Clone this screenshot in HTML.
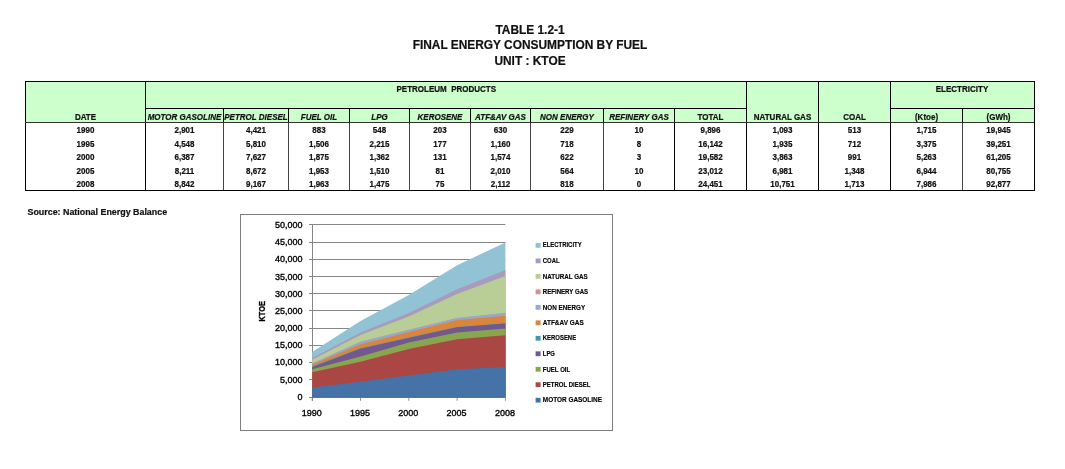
<!DOCTYPE html>
<html lang="en"><head><meta charset="utf-8"><title>Table 1.2-1 Final Energy Consumption by Fuel</title>
<style>
html,body{margin:0;padding:0;background:#fff;}
body{width:1065px;height:469px;position:relative;overflow:hidden;font-family:"Liberation Sans",Arial,sans-serif;color:#111;}
.a{position:absolute;}
.t{position:absolute;white-space:nowrap;text-align:center;font-weight:bold;line-height:1;-webkit-text-stroke:0.2px #111;}
.ttl{font-size:11.9px;left:0;width:1060px;transform:scale(1,1.04);}
.h{font-size:8px;transform:scale(1,1.2);}
.hi{font-size:8px;font-style:italic;transform:scale(1,1.2);}
.d{font-size:8px;transform:scale(1,1.18);}
.ln{position:absolute;background:#000;}
.src{font-size:8.9px;text-align:left;}
svg text{font-family:"Liberation Sans",Arial,sans-serif;}
</style></head><body>
<div class="t ttl" style="top:25.4px">TABLE 1.2-1</div>
<div class="t ttl" style="top:40.1px">FINAL ENERGY CONSUMPTION BY FUEL</div>
<div class="t ttl" style="top:55.8px">UNIT : KTOE</div>
<div class="a" style="left:25px;top:81px;width:1009px;height:41px;background:#ccffcc"></div>
<div class="a" style="left:25px;top:81px;width:1010px;height:110px;border:1px solid #000;box-sizing:border-box"></div>
<div class="ln" style="left:145px;top:81px;width:1px;height:109px;background:#000"></div>
<div class="ln" style="left:223px;top:108px;width:1px;height:14px;background:#000"></div>
<div class="ln" style="left:223px;top:122px;width:1px;height:68px;background:#444"></div>
<div class="ln" style="left:288px;top:108px;width:1px;height:14px;background:#000"></div>
<div class="ln" style="left:288px;top:122px;width:1px;height:68px;background:#444"></div>
<div class="ln" style="left:349px;top:108px;width:1px;height:14px;background:#000"></div>
<div class="ln" style="left:349px;top:122px;width:1px;height:68px;background:#444"></div>
<div class="ln" style="left:409px;top:108px;width:1px;height:14px;background:#000"></div>
<div class="ln" style="left:409px;top:122px;width:1px;height:68px;background:#444"></div>
<div class="ln" style="left:470px;top:108px;width:1px;height:14px;background:#000"></div>
<div class="ln" style="left:470px;top:122px;width:1px;height:68px;background:#444"></div>
<div class="ln" style="left:530px;top:108px;width:1px;height:14px;background:#000"></div>
<div class="ln" style="left:530px;top:122px;width:1px;height:68px;background:#444"></div>
<div class="ln" style="left:603px;top:108px;width:1px;height:14px;background:#000"></div>
<div class="ln" style="left:603px;top:122px;width:1px;height:68px;background:#444"></div>
<div class="ln" style="left:674px;top:108px;width:1px;height:14px;background:#000"></div>
<div class="ln" style="left:674px;top:122px;width:1px;height:68px;background:#000"></div>
<div class="ln" style="left:746px;top:81px;width:1px;height:109px;background:#000"></div>
<div class="ln" style="left:818px;top:81px;width:1px;height:109px;background:#000"></div>
<div class="ln" style="left:890px;top:81px;width:1px;height:109px;background:#000"></div>
<div class="ln" style="left:962px;top:108px;width:1px;height:14px;background:#000"></div>
<div class="ln" style="left:962px;top:122px;width:1px;height:68px;background:#444"></div>
<div class="ln" style="left:145px;top:108px;width:601px;height:1px;background:#000"></div>
<div class="ln" style="left:890px;top:108px;width:144px;height:1px;background:#000"></div>
<div class="ln" style="left:25px;top:122px;width:1009px;height:1px;background:#333"></div>
<div class="t h" style="left:146.6px;width:599.4px;top:86.2px;">PETROLEUM&nbsp; PRODUCTS</div>
<div class="t h" style="left:890px;width:144px;top:86.2px;">ELECTRICITY</div>
<div class="t h" style="left:25px;width:121px;top:114.1px;">DATE</div>
<div class="t hi" style="left:145px;width:79px;top:114.1px;">MOTOR GASOLINE</div>
<div class="t hi" style="left:223px;width:66px;top:114.1px;">PETROL DIESEL</div>
<div class="t hi" style="left:288px;width:62px;top:114.1px;">FUEL OIL</div>
<div class="t hi" style="left:349px;width:61px;top:114.1px;">LPG</div>
<div class="t hi" style="left:409px;width:62px;top:114.1px;">KEROSENE</div>
<div class="t hi" style="left:470px;width:61px;top:114.1px;">ATF&amp;AV GAS</div>
<div class="t hi" style="left:530px;width:74px;top:114.1px;">NON ENERGY</div>
<div class="t hi" style="left:603px;width:72px;top:114.1px;">REFINERY GAS</div>
<div class="t h" style="left:674px;width:73px;top:114.1px;">TOTAL</div>
<div class="t h" style="left:746px;width:73px;top:114.1px;">NATURAL GAS</div>
<div class="t h" style="left:818px;width:73px;top:114.1px;">COAL</div>
<div class="t h" style="left:890px;width:73px;top:114.1px;">(Ktoe)</div>
<div class="t h" style="left:962px;width:73px;top:114.1px;">(GWh)</div>
<div class="t d" style="left:25px;width:121px;top:126.9px;">1990</div>
<div class="t d" style="left:145px;width:79px;top:126.9px;">2,901</div>
<div class="t d" style="left:223px;width:66px;top:126.9px;">4,421</div>
<div class="t d" style="left:288px;width:62px;top:126.9px;">883</div>
<div class="t d" style="left:349px;width:61px;top:126.9px;">548</div>
<div class="t d" style="left:409px;width:62px;top:126.9px;">203</div>
<div class="t d" style="left:470px;width:61px;top:126.9px;">630</div>
<div class="t d" style="left:530px;width:74px;top:126.9px;">229</div>
<div class="t d" style="left:603px;width:72px;top:126.9px;">10</div>
<div class="t d" style="left:674px;width:73px;top:126.9px;">9,896</div>
<div class="t d" style="left:746px;width:73px;top:126.9px;">1,093</div>
<div class="t d" style="left:818px;width:73px;top:126.9px;">513</div>
<div class="t d" style="left:890px;width:73px;top:126.9px;">1,715</div>
<div class="t d" style="left:962px;width:73px;top:126.9px;">19,945</div>
<div class="t d" style="left:25px;width:121px;top:141.0px;">1995</div>
<div class="t d" style="left:145px;width:79px;top:141.0px;">4,548</div>
<div class="t d" style="left:223px;width:66px;top:141.0px;">5,810</div>
<div class="t d" style="left:288px;width:62px;top:141.0px;">1,506</div>
<div class="t d" style="left:349px;width:61px;top:141.0px;">2,215</div>
<div class="t d" style="left:409px;width:62px;top:141.0px;">177</div>
<div class="t d" style="left:470px;width:61px;top:141.0px;">1,160</div>
<div class="t d" style="left:530px;width:74px;top:141.0px;">718</div>
<div class="t d" style="left:603px;width:72px;top:141.0px;">8</div>
<div class="t d" style="left:674px;width:73px;top:141.0px;">16,142</div>
<div class="t d" style="left:746px;width:73px;top:141.0px;">1,935</div>
<div class="t d" style="left:818px;width:73px;top:141.0px;">712</div>
<div class="t d" style="left:890px;width:73px;top:141.0px;">3,375</div>
<div class="t d" style="left:962px;width:73px;top:141.0px;">39,251</div>
<div class="t d" style="left:25px;width:121px;top:154.1px;">2000</div>
<div class="t d" style="left:145px;width:79px;top:154.1px;">6,387</div>
<div class="t d" style="left:223px;width:66px;top:154.1px;">7,627</div>
<div class="t d" style="left:288px;width:62px;top:154.1px;">1,875</div>
<div class="t d" style="left:349px;width:61px;top:154.1px;">1,362</div>
<div class="t d" style="left:409px;width:62px;top:154.1px;">131</div>
<div class="t d" style="left:470px;width:61px;top:154.1px;">1,574</div>
<div class="t d" style="left:530px;width:74px;top:154.1px;">622</div>
<div class="t d" style="left:603px;width:72px;top:154.1px;">3</div>
<div class="t d" style="left:674px;width:73px;top:154.1px;">19,582</div>
<div class="t d" style="left:746px;width:73px;top:154.1px;">3,863</div>
<div class="t d" style="left:818px;width:73px;top:154.1px;">991</div>
<div class="t d" style="left:890px;width:73px;top:154.1px;">5,263</div>
<div class="t d" style="left:962px;width:73px;top:154.1px;">61,205</div>
<div class="t d" style="left:25px;width:121px;top:168.0px;">2005</div>
<div class="t d" style="left:145px;width:79px;top:168.0px;">8,211</div>
<div class="t d" style="left:223px;width:66px;top:168.0px;">8,672</div>
<div class="t d" style="left:288px;width:62px;top:168.0px;">1,953</div>
<div class="t d" style="left:349px;width:61px;top:168.0px;">1,510</div>
<div class="t d" style="left:409px;width:62px;top:168.0px;">81</div>
<div class="t d" style="left:470px;width:61px;top:168.0px;">2,010</div>
<div class="t d" style="left:530px;width:74px;top:168.0px;">564</div>
<div class="t d" style="left:603px;width:72px;top:168.0px;">10</div>
<div class="t d" style="left:674px;width:73px;top:168.0px;">23,012</div>
<div class="t d" style="left:746px;width:73px;top:168.0px;">6,981</div>
<div class="t d" style="left:818px;width:73px;top:168.0px;">1,348</div>
<div class="t d" style="left:890px;width:73px;top:168.0px;">6,944</div>
<div class="t d" style="left:962px;width:73px;top:168.0px;">80,755</div>
<div class="t d" style="left:25px;width:121px;top:181.3px;">2008</div>
<div class="t d" style="left:145px;width:79px;top:181.3px;">8,842</div>
<div class="t d" style="left:223px;width:66px;top:181.3px;">9,167</div>
<div class="t d" style="left:288px;width:62px;top:181.3px;">1,963</div>
<div class="t d" style="left:349px;width:61px;top:181.3px;">1,475</div>
<div class="t d" style="left:409px;width:62px;top:181.3px;">75</div>
<div class="t d" style="left:470px;width:61px;top:181.3px;">2,112</div>
<div class="t d" style="left:530px;width:74px;top:181.3px;">818</div>
<div class="t d" style="left:603px;width:72px;top:181.3px;">0</div>
<div class="t d" style="left:674px;width:73px;top:181.3px;">24,451</div>
<div class="t d" style="left:746px;width:73px;top:181.3px;">10,751</div>
<div class="t d" style="left:818px;width:73px;top:181.3px;">1,713</div>
<div class="t d" style="left:890px;width:73px;top:181.3px;">7,986</div>
<div class="t d" style="left:962px;width:73px;top:181.3px;">92,877</div>
<div class="t src" style="left:27.5px;top:207.9px">Source: National Energy Balance</div>
<svg class="a" style="left:0;top:0" width="1065" height="469" viewBox="0 0 1065 469">
<rect x="240.5" y="214.5" width="372.0" height="216.0" fill="#fff" stroke="#7f7f7f" stroke-width="1"/>
<line x1="309.0" y1="397.50" x2="505.4" y2="397.50" stroke="#868686" stroke-width="1"/>
<line x1="309.0" y1="379.50" x2="505.4" y2="379.50" stroke="#868686" stroke-width="1"/>
<line x1="309.0" y1="362.50" x2="505.4" y2="362.50" stroke="#868686" stroke-width="1"/>
<line x1="309.0" y1="345.50" x2="505.4" y2="345.50" stroke="#868686" stroke-width="1"/>
<line x1="309.0" y1="328.50" x2="505.4" y2="328.50" stroke="#868686" stroke-width="1"/>
<line x1="309.0" y1="310.50" x2="505.4" y2="310.50" stroke="#868686" stroke-width="1"/>
<line x1="309.0" y1="293.50" x2="505.4" y2="293.50" stroke="#868686" stroke-width="1"/>
<line x1="309.0" y1="276.50" x2="505.4" y2="276.50" stroke="#868686" stroke-width="1"/>
<line x1="309.0" y1="259.50" x2="505.4" y2="259.50" stroke="#868686" stroke-width="1"/>
<line x1="309.0" y1="242.50" x2="505.4" y2="242.50" stroke="#868686" stroke-width="1"/>
<line x1="309.0" y1="224.50" x2="505.4" y2="224.50" stroke="#868686" stroke-width="1"/>
<line x1="312.5" y1="224.8" x2="312.5" y2="400.8" stroke="#868686" stroke-width="1"/>
<line x1="312.20" y1="397.5" x2="312.20" y2="400.8" stroke="#868686" stroke-width="0.9"/>
<line x1="360.50" y1="397.5" x2="360.50" y2="400.8" stroke="#868686" stroke-width="0.9"/>
<line x1="408.80" y1="397.5" x2="408.80" y2="400.8" stroke="#868686" stroke-width="0.9"/>
<line x1="457.10" y1="397.5" x2="457.10" y2="400.8" stroke="#868686" stroke-width="0.9"/>
<line x1="505.40" y1="397.5" x2="505.40" y2="400.8" stroke="#868686" stroke-width="0.9"/>
<polygon points="312.20,352.09 360.50,320.95 408.80,294.92 457.10,265.27 505.40,242.41 505.40,397.5 312.20,397.5" fill="#91C3D5"/>
<polygon points="312.20,358.02 360.50,332.60 408.80,313.10 457.10,289.25 505.40,269.99 505.40,397.5 312.20,397.5" fill="#A99BBD"/>
<polygon points="312.20,359.79 360.50,335.06 408.80,316.52 457.10,293.91 505.40,275.91 505.40,397.5 312.20,397.5" fill="#B9CD96"/>
<polygon points="312.20,363.56 360.50,341.75 408.80,329.87 457.10,318.02 505.40,313.04 505.40,397.5 312.20,397.5" fill="#D19392"/>
<polygon points="312.20,363.60 360.50,341.77 408.80,329.88 457.10,318.05 505.40,313.04 505.40,397.5 312.20,397.5" fill="#93A9CF"/>
<polygon points="312.20,364.39 360.50,344.25 408.80,332.03 457.10,320.00 505.40,315.87 505.40,397.5 312.20,397.5" fill="#DB843D"/>
<polygon points="312.20,366.57 360.50,348.26 408.80,337.46 457.10,326.95 505.40,323.16 505.40,397.5 312.20,397.5" fill="#4198AF"/>
<polygon points="312.20,367.27 360.50,348.87 408.80,337.92 457.10,327.22 505.40,323.42 505.40,397.5 312.20,397.5" fill="#71588F"/>
<polygon points="312.20,369.16 360.50,356.52 408.80,342.62 457.10,332.44 505.40,328.52 505.40,397.5 312.20,397.5" fill="#89A54E"/>
<polygon points="312.20,372.21 360.50,361.72 408.80,349.10 457.10,339.19 505.40,335.30 505.40,397.5 312.20,397.5" fill="#AA4643"/>
<polygon points="312.20,387.48 360.50,381.79 408.80,375.44 457.10,369.14 505.40,366.96 505.40,397.5 312.20,397.5" fill="#4572A7"/>
<text x="302.5" y="400" font-size="9" text-anchor="end" fill="#000" stroke="#000" stroke-width="0.35">0</text>
<text x="302.5" y="383" font-size="9" text-anchor="end" fill="#000" stroke="#000" stroke-width="0.35">5,000</text>
<text x="302.5" y="365.4" font-size="9" text-anchor="end" fill="#000" stroke="#000" stroke-width="0.35">10,000</text>
<text x="302.5" y="348" font-size="9" text-anchor="end" fill="#000" stroke="#000" stroke-width="0.35">15,000</text>
<text x="302.5" y="331" font-size="9" text-anchor="end" fill="#000" stroke="#000" stroke-width="0.35">20,000</text>
<text x="302.5" y="314" font-size="9" text-anchor="end" fill="#000" stroke="#000" stroke-width="0.35">25,000</text>
<text x="302.5" y="297" font-size="9" text-anchor="end" fill="#000" stroke="#000" stroke-width="0.35">30,000</text>
<text x="302.5" y="280" font-size="9" text-anchor="end" fill="#000" stroke="#000" stroke-width="0.35">35,000</text>
<text x="302.5" y="262" font-size="9" text-anchor="end" fill="#000" stroke="#000" stroke-width="0.35">40,000</text>
<text x="302.5" y="245" font-size="9" text-anchor="end" fill="#000" stroke="#000" stroke-width="0.35">45,000</text>
<text x="302.5" y="228" font-size="9" text-anchor="end" fill="#000" stroke="#000" stroke-width="0.35">50,000</text>
<text x="311.70" y="416.3" font-size="9" text-anchor="middle" fill="#000" stroke="#000" stroke-width="0.35">1990</text>
<text x="360.00" y="416.3" font-size="9" text-anchor="middle" fill="#000" stroke="#000" stroke-width="0.35">1995</text>
<text x="408.30" y="416.3" font-size="9" text-anchor="middle" fill="#000" stroke="#000" stroke-width="0.35">2000</text>
<text x="456.60" y="416.3" font-size="9" text-anchor="middle" fill="#000" stroke="#000" stroke-width="0.35">2005</text>
<text x="504.90" y="416.3" font-size="9" text-anchor="middle" fill="#000" stroke="#000" stroke-width="0.35">2008</text>
<text transform="translate(265.2,311.3) rotate(-90)" font-size="8.5" font-weight="bold" text-anchor="middle" fill="#000" stroke="#000" stroke-width="0.3" textLength="20.5" lengthAdjust="spacingAndGlyphs">KTOE</text>
<rect x="535.6" y="243.00" width="5" height="4.8" fill="#91C3D5"/>
<text x="542.8" y="247" font-size="7.9" font-weight="bold" fill="#000" stroke="#000" stroke-width="0.15" textLength="38.8" lengthAdjust="spacingAndGlyphs">ELECTRICITY</text>
<rect x="535.6" y="258.48" width="5" height="4.8" fill="#A99BBD"/>
<text x="542.8" y="263" font-size="7.9" font-weight="bold" fill="#000" stroke="#000" stroke-width="0.15" textLength="16.8" lengthAdjust="spacingAndGlyphs">COAL</text>
<rect x="535.6" y="273.96" width="5" height="4.8" fill="#B9CD96"/>
<text x="542.8" y="279" font-size="7.9" font-weight="bold" fill="#000" stroke="#000" stroke-width="0.15" textLength="44.9" lengthAdjust="spacingAndGlyphs">NATURAL GAS</text>
<rect x="535.6" y="289.44" width="5" height="4.8" fill="#D19392"/>
<text x="542.8" y="294" font-size="7.9" font-weight="bold" fill="#000" stroke="#000" stroke-width="0.15" textLength="45.3" lengthAdjust="spacingAndGlyphs">REFINERY GAS</text>
<rect x="535.6" y="304.92" width="5" height="4.8" fill="#93A9CF"/>
<text x="542.8" y="310" font-size="7.9" font-weight="bold" fill="#000" stroke="#000" stroke-width="0.15" textLength="42.3" lengthAdjust="spacingAndGlyphs">NON ENERGY</text>
<rect x="535.6" y="320.40" width="5" height="4.8" fill="#DB843D"/>
<text x="542.8" y="325" font-size="7.9" font-weight="bold" fill="#000" stroke="#000" stroke-width="0.15" textLength="40.9" lengthAdjust="spacingAndGlyphs">ATF&amp;AV GAS</text>
<rect x="535.6" y="335.88" width="5" height="4.8" fill="#4198AF"/>
<text x="542.8" y="340" font-size="7.9" font-weight="bold" fill="#000" stroke="#000" stroke-width="0.15" textLength="33.3" lengthAdjust="spacingAndGlyphs">KEROSENE</text>
<rect x="535.6" y="351.36" width="5" height="4.8" fill="#71588F"/>
<text x="542.8" y="356" font-size="7.9" font-weight="bold" fill="#000" stroke="#000" stroke-width="0.15" textLength="12.1" lengthAdjust="spacingAndGlyphs">LPG</text>
<rect x="535.6" y="366.84" width="5" height="4.8" fill="#89A54E"/>
<text x="542.8" y="372" font-size="7.9" font-weight="bold" fill="#000" stroke="#000" stroke-width="0.15" textLength="27.4" lengthAdjust="spacingAndGlyphs">FUEL OIL</text>
<rect x="535.6" y="382.32" width="5" height="4.8" fill="#AA4643"/>
<text x="542.8" y="387" font-size="7.9" font-weight="bold" fill="#000" stroke="#000" stroke-width="0.15" textLength="47.6" lengthAdjust="spacingAndGlyphs">PETROL DIESEL</text>
<rect x="535.6" y="397.80" width="5" height="4.8" fill="#4572A7"/>
<text x="542.8" y="402" font-size="7.9" font-weight="bold" fill="#000" stroke="#000" stroke-width="0.15" textLength="59.2" lengthAdjust="spacingAndGlyphs">MOTOR GASOLINE</text>
</svg>
</body></html>
